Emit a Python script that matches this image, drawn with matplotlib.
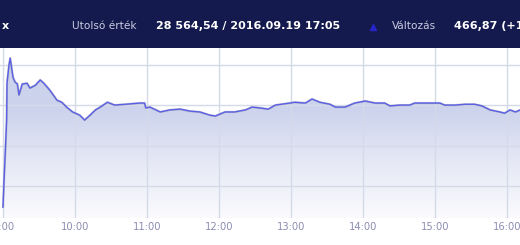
import numpy as np
import pandas as pd
import matplotlib
matplotlib.use("Agg")
import matplotlib.pyplot as plt
import matplotlib.dates as mdates
from matplotlib.colors import LinearSegmentedColormap

# intraday index values (time, value)
times = ["09:00", "09:01", "09:02", "09:03", "09:03:20", "09:05", "09:06", "09:07:30",
         "09:08:20", "09:10", "09:12", "09:13:20", "09:16", "09:20", "09:22:30",
         "09:27", "09:31", "09:34", "09:39", "09:45", "09:49", "09:53", "09:58",
         "10:04", "10:08", "10:12:30", "10:17", "10:21", "10:27", "10:33", "10:42",
         "10:54", "10:58", "10:59", "11:02:30", "11:11", "11:19", "11:27:30", "11:36",
         "11:44", "11:52:30", "11:57", "12:05", "12:13", "12:22", "12:27:30", "12:34",
         "12:41", "12:47", "12:59", "13:03", "13:12", "13:17:30", "13:24", "13:32:30",
         "13:37", "13:45", "13:53", "14:02", "14:10", "14:18", "14:22:30", "14:31",
         "14:39", "14:43", "14:52", "15:04", "15:08", "15:17", "15:25", "15:33",
         "15:39", "15:46", "15:54", "15:58", "16:02:30", "16:07", "16:11", "16:15"]
values = [28348, 28422, 28489, 28563, 28654, 28699, 28716, 28686,
          28669, 28657, 28652, 28625, 28652, 28654, 28642,
          28649, 28662, 28654, 28637, 28612, 28607, 28595, 28583,
          28575, 28563, 28575, 28588, 28595, 28607, 28600, 28602,
          28605, 28605, 28593, 28595, 28583, 28588, 28590, 28585,
          28583, 28575, 28573, 28583, 28583, 28588, 28595, 28593,
          28590, 28600, 28605, 28607, 28605, 28615, 28607, 28602,
          28595, 28595, 28605, 28610, 28605, 28605, 28598, 28600,
          28600, 28605, 28605, 28605, 28600, 28600, 28602, 28602,
          28598, 28588, 28583, 28580, 28588, 28583, 28588, 28586]
tick_labels = ["9:00", "10:00", "11:00", "12:00", "13:00", "14:00", "15:00", "16:00"]
grid_levels = [28400, 28500, 28600, 28700]

header_label1 = "Utolsó érték"
header_value1 = "28 564,54 / 2016.09.19 17:05"
header_label2 = "Változás"
header_value2 = "466,87 (+1,66%)"

t = pd.to_datetime(["2016-09-19 " + (s if s.count(":") == 2 else s + ":00") for s in times])
v = np.array(values, dtype=float)

fig = plt.figure(figsize=(5.2, 2.45), dpi=100)
fig.patch.set_facecolor("white")

# dark header band
hdr = fig.add_axes([0, 1 - 48 / 245, 1, 48 / 245])
hdr.set_xlim(0, 520)
hdr.set_ylim(48, 0)
hdr.axis("off")
hdr.add_patch(plt.Rectangle((0, 0), 520, 48, color="#141a4d", zorder=0))
ty = 26
hdr.text(2, ty, "x", color="white", fontsize=8, fontweight="bold", va="center")
hdr.text(72, ty, header_label1, color="#c9cce2", fontsize=7.6, va="center")
hdr.text(156, ty, header_value1, color="white", fontsize=8, fontweight="bold", va="center")
hdr.plot([373], [ty + 1], marker="^", color="#2626c8", markersize=4.5, linestyle="none")
hdr.text(392, ty, header_label2, color="#c9cce2", fontsize=7.6, va="center")
hdr.text(454, ty, header_value2, color="white", fontsize=8, fontweight="bold", va="center")

# chart
ax = fig.add_axes([0, 1 - 218 / 245, 1, (218 - 48) / 245])
x0 = pd.Timestamp("2016-09-19 09:00") - pd.Timedelta(minutes=2.5)
x1 = pd.Timestamp("2016-09-19 09:00") + pd.Timedelta(minutes=430.8)
ymin, ymax = 28321, 28741
ax.set_xlim(x0, x1)
ax.set_ylim(ymin, ymax)

for g in grid_levels:
    ax.axhline(g, color="#d5dae8", lw=1, zorder=2.5)
tick_pos = [pd.Timestamp("2016-09-19 " + s.zfill(5)) for s in tick_labels]
for tp in tick_pos:
    ax.axvline(tp, color="#d5dae8", lw=1, zorder=2.5)

# gradient fill under the line (full colour above ~28590, fading to white at bottom)
cmap = LinearSegmentedColormap.from_list("fillgrad", ["#fbfbfe", "#e6e9f5", "#ccd3ec"])
yy = np.linspace(ymin, ymax, 256)
grad = np.clip((yy - ymin) / (28590 - ymin), 0, 1).reshape(-1, 1)
xn0, xn1 = mdates.date2num(x0), mdates.date2num(x1)
fill = ax.fill_between(t, v, ymin, color="none", lw=0)
im = ax.imshow(grad, extent=[xn0, xn1, ymin, ymax], origin="lower", aspect="auto",
               cmap=cmap, vmin=0, vmax=1, zorder=2)
im.set_clip_path(fill.get_paths()[0], transform=ax.transData)

ax.plot(t, v, color="#9a9aa8", lw=1.6, alpha=0.5, zorder=3)
ax.plot(t, v, color="#5a5fe6", lw=1.0, zorder=4)

ax.set_xticks(tick_pos)
ax.set_xticklabels(tick_labels)
ax.tick_params(axis="x", length=0, pad=3, labelsize=7.2, labelcolor="#8a8db0")
ax.set_yticks([])
for s in ax.spines.values():
    s.set_visible(False)
ax.set_facecolor("white")

fig.savefig("out.png", dpi=100)
